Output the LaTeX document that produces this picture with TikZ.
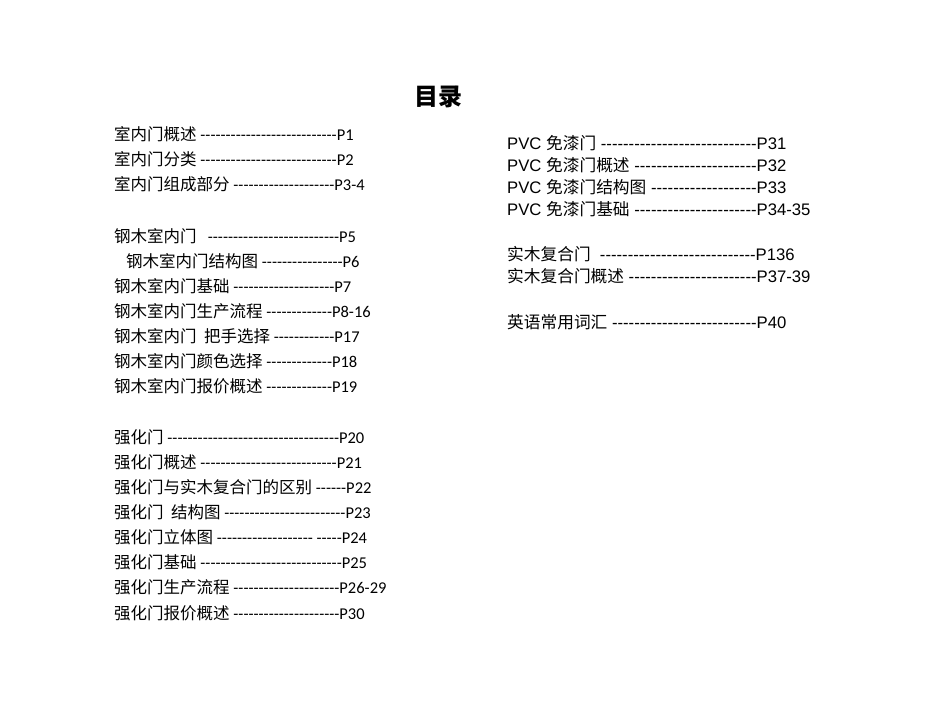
\documentclass[tikz,border=0pt]{standalone}
\usepackage{fontspec}
\setmainfont{Carlito}[Ligatures=TeXOff]
\newfontfamily\cjk{Noto Sans CJK SC}
\newfontfamily\arial{Liberation Sans}[Ligatures=TeXOff]
\begin{document}
\begin{tikzpicture}[x=1pt,y=-1pt]
\tikzset{lt/.style={anchor=west,inner sep=0pt,font=\fontsize{16.5}{18}\selectfont},
rt/.style={anchor=west,inner sep=0pt,font=\fontsize{16.7}{19}\selectfont\arial}}
\path[use as bounding box,fill=white] (0,0) rectangle (950,713);
\node[inner sep=0pt,font=\fontsize{24}{26}\selectfont\cjk\bfseries] (title) at (438,97) {目录};
\node[lt] (l1) at (114,134) {{\cjk 室内门概述} ---------------------------P1};
\node[lt] (l2) at (114,159) {{\cjk 室内门分类} ---------------------------P2};
\node[lt] (l3) at (114,184) {{\cjk 室内门组成部分} --------------------P3-4};
\node[lt] (l4) at (114,236) {{\cjk 钢木室内门}\ \ \ --------------------------P5};
\node[lt] (l5) at (126,261) {{\cjk 钢木室内门结构图} ----------------P6};
\node[lt] (l6) at (114,286) {{\cjk 钢木室内门基础} --------------------P7};
\node[lt] (l7) at (114,311) {{\cjk 钢木室内门生产流程} -------------P8-16};
\node[lt] (l8) at (114,336) {{\cjk 钢木室内门\ \ 把手选择} ------------P17};
\node[lt] (l9) at (114,361) {{\cjk 钢木室内门颜色选择} -------------P18};
\node[lt] (l10) at (114,386) {{\cjk 钢木室内门报价概述} -------------P19};
\node[lt] (l11) at (114,437) {{\cjk 强化门} ----------------------------------P20};
\node[lt] (l12) at (114,462) {{\cjk 强化门概述} ---------------------------P21};
\node[lt] (l13) at (114,487) {{\cjk 强化门与实木复合门的区别} ------P22};
\node[lt] (l14) at (114,512) {{\cjk 强化门\ \ 结构图} ------------------------P23};
\node[lt] (l15) at (114,537) {{\cjk 强化门立体图} ------------------- -----P24};
\node[lt] (l16) at (114,562) {{\cjk 强化门基础} ----------------------------P25};
\node[lt] (l17) at (114,587) {{\cjk 强化门生产流程} ---------------------P26-29};
\node[lt] (l18) at (114,613) {{\cjk 强化门报价概述} ---------------------P30};
\node[rt] (r1) at (507,143) {PVC {\cjk 免漆门} ----------------------------P31};
\node[rt] (r2) at (507,165) {PVC {\cjk 免漆门概述} ----------------------P32};
\node[rt] (r3) at (507,187) {PVC {\cjk 免漆门结构图} -------------------P33};
\node[rt] (r4) at (507,209) {PVC {\cjk 免漆门基础} ----------------------P34-35};
\node[rt] (r5) at (507,254) {{\cjk 实木复合门}\ \ ----------------------------P136};
\node[rt] (r6) at (507,276) {{\cjk 实木复合门概述} -----------------------P37-39};
\node[rt] (r7) at (507,322) {{\cjk 英语常用词汇} --------------------------P40};
\end{tikzpicture}
\end{document}
